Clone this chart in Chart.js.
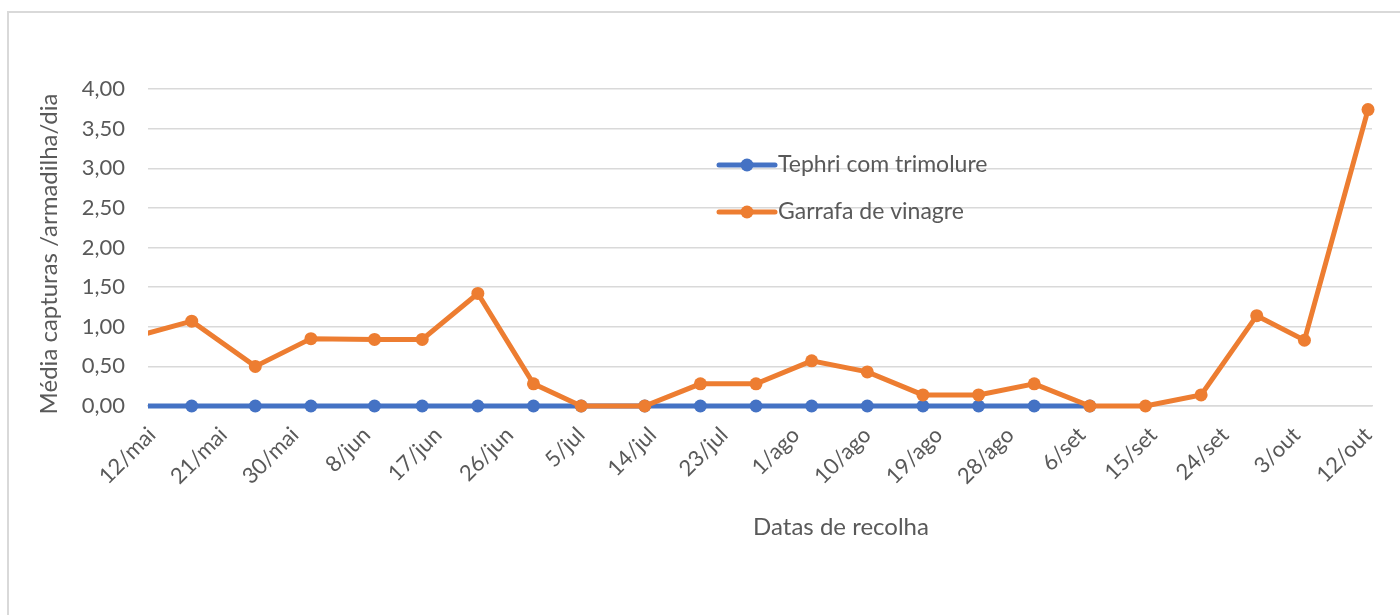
<!DOCTYPE html>
<html>
<head>
<meta charset="utf-8">
<script src="https://cdn.jsdelivr.net/npm/chart.js@4"></script>
<style>
    html, body { margin: 0; padding: 0; background: #fff; overflow: hidden; }
    #frame {
        position: absolute; left: 7px; top: 11px; width: 1400px; height: 700px;
        border-left: 2px solid #d9d9d9; border-top: 2px solid #d9d9d9;
    }
    #wrap { position: absolute; left: 0; top: 0; width: 1400px; height: 615px; }
</style>
</head>
<body>
<div id="frame"></div>
<div id="wrap"><canvas id="chart" width="1400" height="615"></canvas></div>
<script>
// x values are days counted from 12/mai
const tephriDays = [-3, 5, 13, 20, 28, 34, 41, 48, 54, 62, 69, 76, 83, 90, 97, 104, 111, 118];
const tephriValues = [0, 0, 0, 0, 0, 0, 0, 0, 0, 0, 0, 0, 0, 0, 0, 0, 0, 0];

const garrafaDays = [-3, 5, 13, 20, 28, 34, 41, 48, 54, 62, 69, 76, 83, 90, 97, 104, 111, 118, 125, 132, 139, 145, 153];
const garrafaValues = [0.85, 1.07, 0.50, 0.85, 0.84, 0.84, 1.42, 0.28, 0, 0, 0.28, 0.28, 0.57, 0.43, 0.14, 0.14, 0.28, 0, 0, 0.14, 1.14, 0.83, 3.74];

const xTickDays = [0, 9, 18, 27, 36, 45, 54, 63, 72, 81, 90, 99, 108, 117, 126, 135, 144, 153];
const xTickLabels = ['12/mai', '21/mai', '30/mai', '8/jun', '17/jun', '26/jun', '5/jul', '14/jul', '23/jul',
    '1/ago', '10/ago', '19/ago', '28/ago', '6/set', '15/set', '24/set', '3/out', '12/out'];

const seriesNames = ['Tephri com trimolure', 'Garrafa de vinagre'];
const seriesColors = ['#4472c4', '#ed7d31'];
const xTitle = 'Datas de recolha';
const yTitle = 'Média capturas /armadilha/dia';

const FONT = 'Lato, "Liberation Sans", sans-serif';
const TEXT = '#595959';

const toPoints = (days, vals) => days.map((d, i) => ({ x: d, y: vals[i] }));

// legend sits inside the plot, like the Excel original
const insideLegend = {
    id: 'insideLegend',
    afterDraw(chart) {
        const ctx = chart.ctx;
        const x0 = 719, y0 = 165, rowGap = 47;
        ctx.save();
        seriesNames.forEach((name, i) => {
            const y = y0 + i * rowGap;
            ctx.strokeStyle = seriesColors[i];
            ctx.lineWidth = 5;
            ctx.lineCap = 'round';
            ctx.beginPath();
            ctx.moveTo(x0, y);
            ctx.lineTo(x0 + 56, y);
            ctx.stroke();
            ctx.fillStyle = seriesColors[i];
            ctx.beginPath();
            ctx.arc(x0 + 28, y, 6.5, 0, Math.PI * 2);
            ctx.fill();
            ctx.fillStyle = TEXT;
            ctx.font = '23px ' + FONT;
            ctx.textBaseline = 'middle';
            ctx.textAlign = 'left';
            ctx.fillText(name, x0 + 59, y);
        });
        ctx.restore();
    }
};

// Excel centres the axis titles a bit differently than Chart.js does
const axisTitles = {
    id: 'axisTitles',
    afterDraw(chart) {
        const ctx = chart.ctx;
        ctx.save();
        ctx.fillStyle = TEXT;
        ctx.font = '24px ' + FONT;
        ctx.textAlign = 'center';
        ctx.textBaseline = 'middle';
        ctx.fillText(xTitle, 841, 527);
        ctx.translate(49, 254);
        ctx.rotate(-Math.PI / 2);
        ctx.fillText(yTitle, 0, 0);
        ctx.restore();
    }
};

const lineStyle = (i) => ({
    borderColor: seriesColors[i],
    backgroundColor: seriesColors[i],
    borderWidth: 5,
    pointRadius: c => (c.raw && c.raw.x < 0 ? 0 : 6.5),
    pointHoverRadius: 6.5,
    pointBorderWidth: 0,
    tension: 0,
    clip: { left: 0, top: false, right: false, bottom: false }
});

new Chart(document.getElementById('chart'), {
    type: 'line',
    data: {
        datasets: [
            Object.assign({ label: seriesNames[0], data: toPoints(tephriDays, tephriValues), order: 2 }, lineStyle(0)),
            Object.assign({ label: seriesNames[1], data: toPoints(garrafaDays, garrafaValues), order: 1 }, lineStyle(1))
        ]
    },
    options: {
        responsive: false,
        animation: false,
        layout: { padding: { left: 37, right: 28, top: 89, bottom: 76 } },
        plugins: { legend: { display: false }, tooltip: { enabled: false } },
        scales: {
            x: {
                type: 'linear',
                min: -0.5,
                max: 153.5,
                afterBuildTicks: scale => { scale.ticks = xTickDays.map(v => ({ value: v })); },
                afterFit: scale => { scale.height = 133; },
                grid: { display: false },
                border: { display: true, color: '#d9d9d9', width: 1.5 },
                ticks: {
                    autoSkip: false,
                    minRotation: 45,
                    maxRotation: 45,
                    padding: 8,
                    color: TEXT,
                    font: { family: FONT, size: 22 },
                    callback: (v) => xTickLabels[xTickDays.indexOf(v)]
                }
            },
            y: {
                min: 0,
                max: 4,
                afterFit: scale => { scale.width = 111; },
                grid: { color: '#d9d9d9', lineWidth: 1.5, drawTicks: false },
                border: { display: false },
                ticks: {
                    stepSize: 0.5,
                    padding: 23,
                    color: TEXT,
                    font: { family: FONT, size: 22 },
                    callback: v => v.toFixed(2).replace('.', ',')
                }
            }
        }
    },
    plugins: [insideLegend, axisTitles]
});
</script>
</body>
</html>
